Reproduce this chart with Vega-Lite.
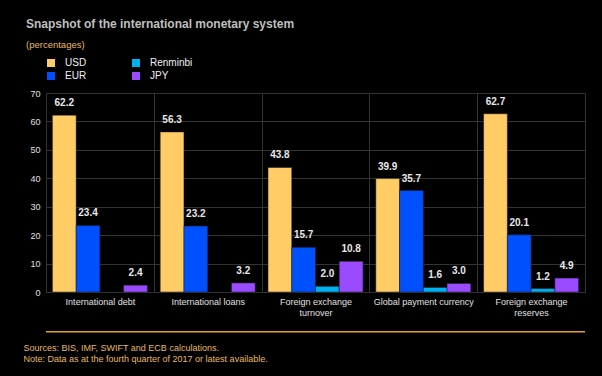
{
  "$schema": "https://vega.github.io/schema/vega-lite/v6.json",
  "autosize": {"type": "none"},
  "padding": {"left": 46, "top": 93, "right": 17, "bottom": 84},
  "width": 539,
  "height": 199,
  "background": "#000000",
  "title": {
    "text": "Snapshot of the international monetary system",
    "subtitle": "(percentages)",
    "anchor": "start",
    "frame": "group",
    "dx": -20,
    "offset": 8,
    "font": "Liberation Sans",
    "fontSize": 12,
    "fontWeight": "bold",
    "color": "#bfbfbf",
    "subtitleFont": "Liberation Sans",
    "subtitleFontSize": 9.5,
    "subtitleColor": "#e8b860",
    "subtitlePadding": 9
  },
  "config": {
    "view": {"stroke": "#3c3c3c", "strokeWidth": 1},
    "font": "Liberation Sans",
    "axisY": {
      "values": [0, 10, 20, 30, 40, 50, 60, 70],
      "labelOverlap": false,
      "title": null,
      "labelFontSize": 9,
      "labelColor": "#e0e0e0",
      "labelPadding": 6,
      "ticks": false,
      "domain": false,
      "gridColor": "#333333",
      "gridWidth": 1
    }
  },
  "layer": [
    {
      "data": {
        "values": [
          {"category": "International debt", "currency": "USD", "value": 62.2},
          {"category": "International debt", "currency": "EUR", "value": 23.4},
          {"category": "International debt", "currency": "JPY", "value": 2.4},
          {"category": "International loans", "currency": "USD", "value": 56.3},
          {"category": "International loans", "currency": "EUR", "value": 23.2},
          {"category": "International loans", "currency": "JPY", "value": 3.2},
          {"category": "Foreign exchange turnover", "currency": "USD", "value": 43.8},
          {"category": "Foreign exchange turnover", "currency": "EUR", "value": 15.7},
          {"category": "Foreign exchange turnover", "currency": "Renminbi", "value": 2.0},
          {"category": "Foreign exchange turnover", "currency": "JPY", "value": 10.8},
          {"category": "Global payment currency", "currency": "USD", "value": 39.9},
          {"category": "Global payment currency", "currency": "EUR", "value": 35.7},
          {"category": "Global payment currency", "currency": "Renminbi", "value": 1.6},
          {"category": "Global payment currency", "currency": "JPY", "value": 3.0},
          {"category": "Foreign exchange reserves", "currency": "USD", "value": 62.7},
          {"category": "Foreign exchange reserves", "currency": "EUR", "value": 20.1},
          {"category": "Foreign exchange reserves", "currency": "Renminbi", "value": 1.2},
          {"category": "Foreign exchange reserves", "currency": "JPY", "value": 4.9}
        ]
      },
      "encoding": {
        "x": {
          "field": "category",
          "type": "nominal",
          "sort": null,
          "scale": {"paddingInner": 0, "paddingOuter": 0},
          "axis": {
            "labelExpr": "datum.value == 'Foreign exchange turnover' ? ['Foreign exchange', 'turnover'] : datum.value == 'Foreign exchange reserves' ? ['Foreign exchange', 'reserves'] : datum.value",
            "labelAngle": 0,
            "labelFontSize": 9,
            "labelColor": "#e0e0e0",
            "labelPadding": 5,
            "labelLineHeight": 11,
            "labelBaseline": "top",
            "ticks": false,
            "domain": false,
            "grid": true,
            "tickBand": "extent",
            "gridColor": "#333333",
            "gridWidth": 1,
            "title": ["Sources: BIS, IMF, SWIFT and ECB calculations.", "Note: Data as at the fourth quarter of 2017 or latest available."],
            "titleX": -23,
            "titleY": 51,
            "titleAlign": "left",
            "titleAnchor": "start",
            "titleBaseline": "top",
            "titleFontSize": 9,
            "titleFontWeight": "normal",
            "titleColor": "#e8b860",
            "titleLineHeight": 11.5
          }
        },
        "xOffset": {
          "field": "currency",
          "type": "nominal",
          "scale": {"domain": ["USD", "EUR", "Renminbi", "JPY"], "paddingOuter": 0.27, "paddingInner": 0}
        },
        "y": {
          "field": "value",
          "type": "quantitative",
          "title": null,
          "scale": {"domain": [0, 70], "nice": false}
        }
      },
      "layer": [
        {
          "mark": {"type": "bar", "stroke": "#1a1a1a", "strokeWidth": 0.5},
          "encoding": {
            "color": {
              "field": "currency",
              "type": "nominal",
              "scale": {"domain": ["USD", "EUR", "Renminbi", "JPY"], "range": ["#FFCC66", "#0050FF", "#00B0F0", "#9A4AFF"]},
              "legend": {
                "title": null,
                "orient": "top",
                "direction": "horizontal",
                "columns": 2,
                "values": ["USD", "Renminbi", "EUR", "JPY"],
                "symbolType": "square",
                "symbolSize": 64,
                "symbolStrokeWidth": 0,
                "labelFontSize": 10,
                "labelColor": "#f0f0f0",
                "labelOffset": 9,
                "columnPadding": 44,
                "rowPadding": 3,
                "offset": 12
              }
            }
          }
        },
        {
          "mark": {"type": "text", "baseline": "alphabetic", "dy": -9, "fontSize": 10, "fontWeight": "bold", "color": "#e8e8e8"},
          "encoding": {
            "text": {"field": "value", "type": "quantitative", "format": ".1f"}
          }
        }
      ]
    },
    {
      "data": {"values": [{"line": -14}]},
      "mark": {"type": "rule", "color": "#e8a030", "strokeWidth": 1.5, "clip": false},
      "encoding": {
        "y": {"field": "line", "type": "quantitative", "title": null}
      }
    }
  ]
}
